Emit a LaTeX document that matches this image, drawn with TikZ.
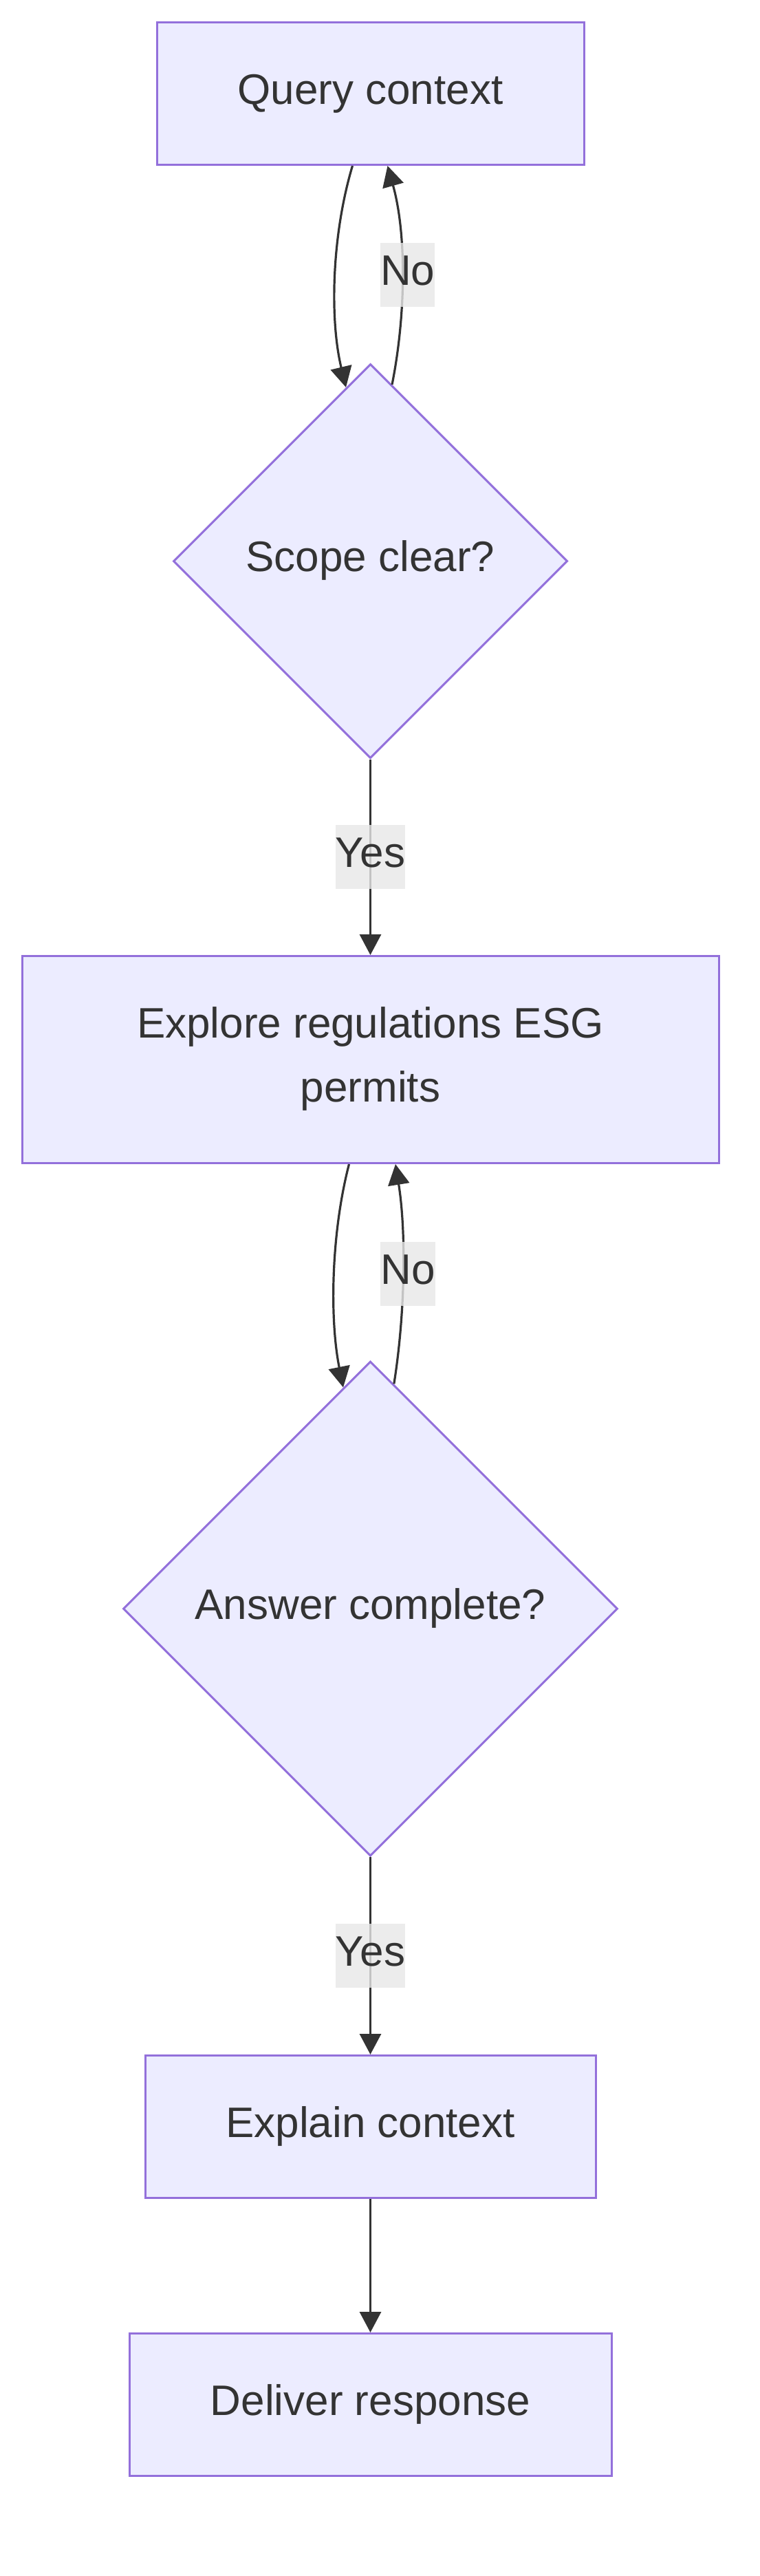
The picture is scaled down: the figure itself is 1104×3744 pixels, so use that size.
\documentclass[tikz,border=0pt]{standalone}
\usepackage{fontspec}
\setmainfont{Liberation Sans}
\usepackage{xcolor}
\usetikzlibrary{arrows.meta,shapes.geometric}
\definecolor{boxfill}{HTML}{ECECFF}
\definecolor{boxline}{HTML}{9370DB}
\definecolor{ink}{HTML}{333333}
\definecolor{lblbg}{HTML}{E8E8E8}

\begin{document}
\begin{tikzpicture}[>={Triangle[length=30pt,width=31pt]}, x=1pt, y=-1pt,
  txt/.style={font=\fontsize{62}{93}\selectfont, text=ink, text height=46pt, text depth=16pt, inner sep=0pt},
  proc/.style={txt, draw=boxline, fill=boxfill, line width=3pt, align=center},
  decide/.style={proc, diamond, aspect=1, minimum size=#1},
  flow/.style={->, draw=ink, line width=3.2pt},
  lbl/.style={txt, fill=lblbg, fill opacity=0.8, text opacity=1, minimum height=93pt}]
  \def\cx{538.5}
  \path[use as bounding box, fill=white] (0,0) rectangle (1104,3744);
  \node[proc, minimum width=621pt, minimum height=207pt] (qry) at (\cx,136) {Query context};
  \node[decide=573pt] (scope) at (\cx,815.5) {Scope clear?};
  \node[proc, minimum width=1013pt, minimum height=301pt, text height=139pt] (expl) at (\cx,1540) {Explore regulations ESG\\permits};
  \node[decide=719pt] (ans) at (\cx,2338) {Answer complete?};
  \node[proc, minimum width=655pt, minimum height=207pt] (expc) at (\cx,3091) {Explain context};
  \node[proc, minimum width=701pt, minimum height=207pt] (dlv) at (\cx,3495) {Deliver response};
  \draw[flow] ([xshift=-26pt]qry.south) .. controls +(-30,100) and +(-24,-100) .. (scope.98);
  \draw[flow] (scope.83) .. controls +(20,-100) and +(28,100) .. ([xshift=25pt]qry.south)
    node[lbl, pos=0.5, xshift=8pt] {No};
  \draw[flow] (scope.south) -- (expl.north) node[lbl, midway] {Yes};
  \draw[flow] ([xshift=-31pt]expl.south) .. controls +(-26,100) and +(-20,-100) .. (ans.97);
  \draw[flow] (ans.84) .. controls +(16,-100) and +(16,100) .. ([xshift=36.5pt]expl.south)
    node[lbl, pos=0.5, xshift=7pt] {No};
  \draw[flow] (ans.south) -- (expc.north) node[lbl, midway] {Yes};
  \draw[flow] (expc.south) -- (dlv.north);
\end{tikzpicture}
\end{document}
